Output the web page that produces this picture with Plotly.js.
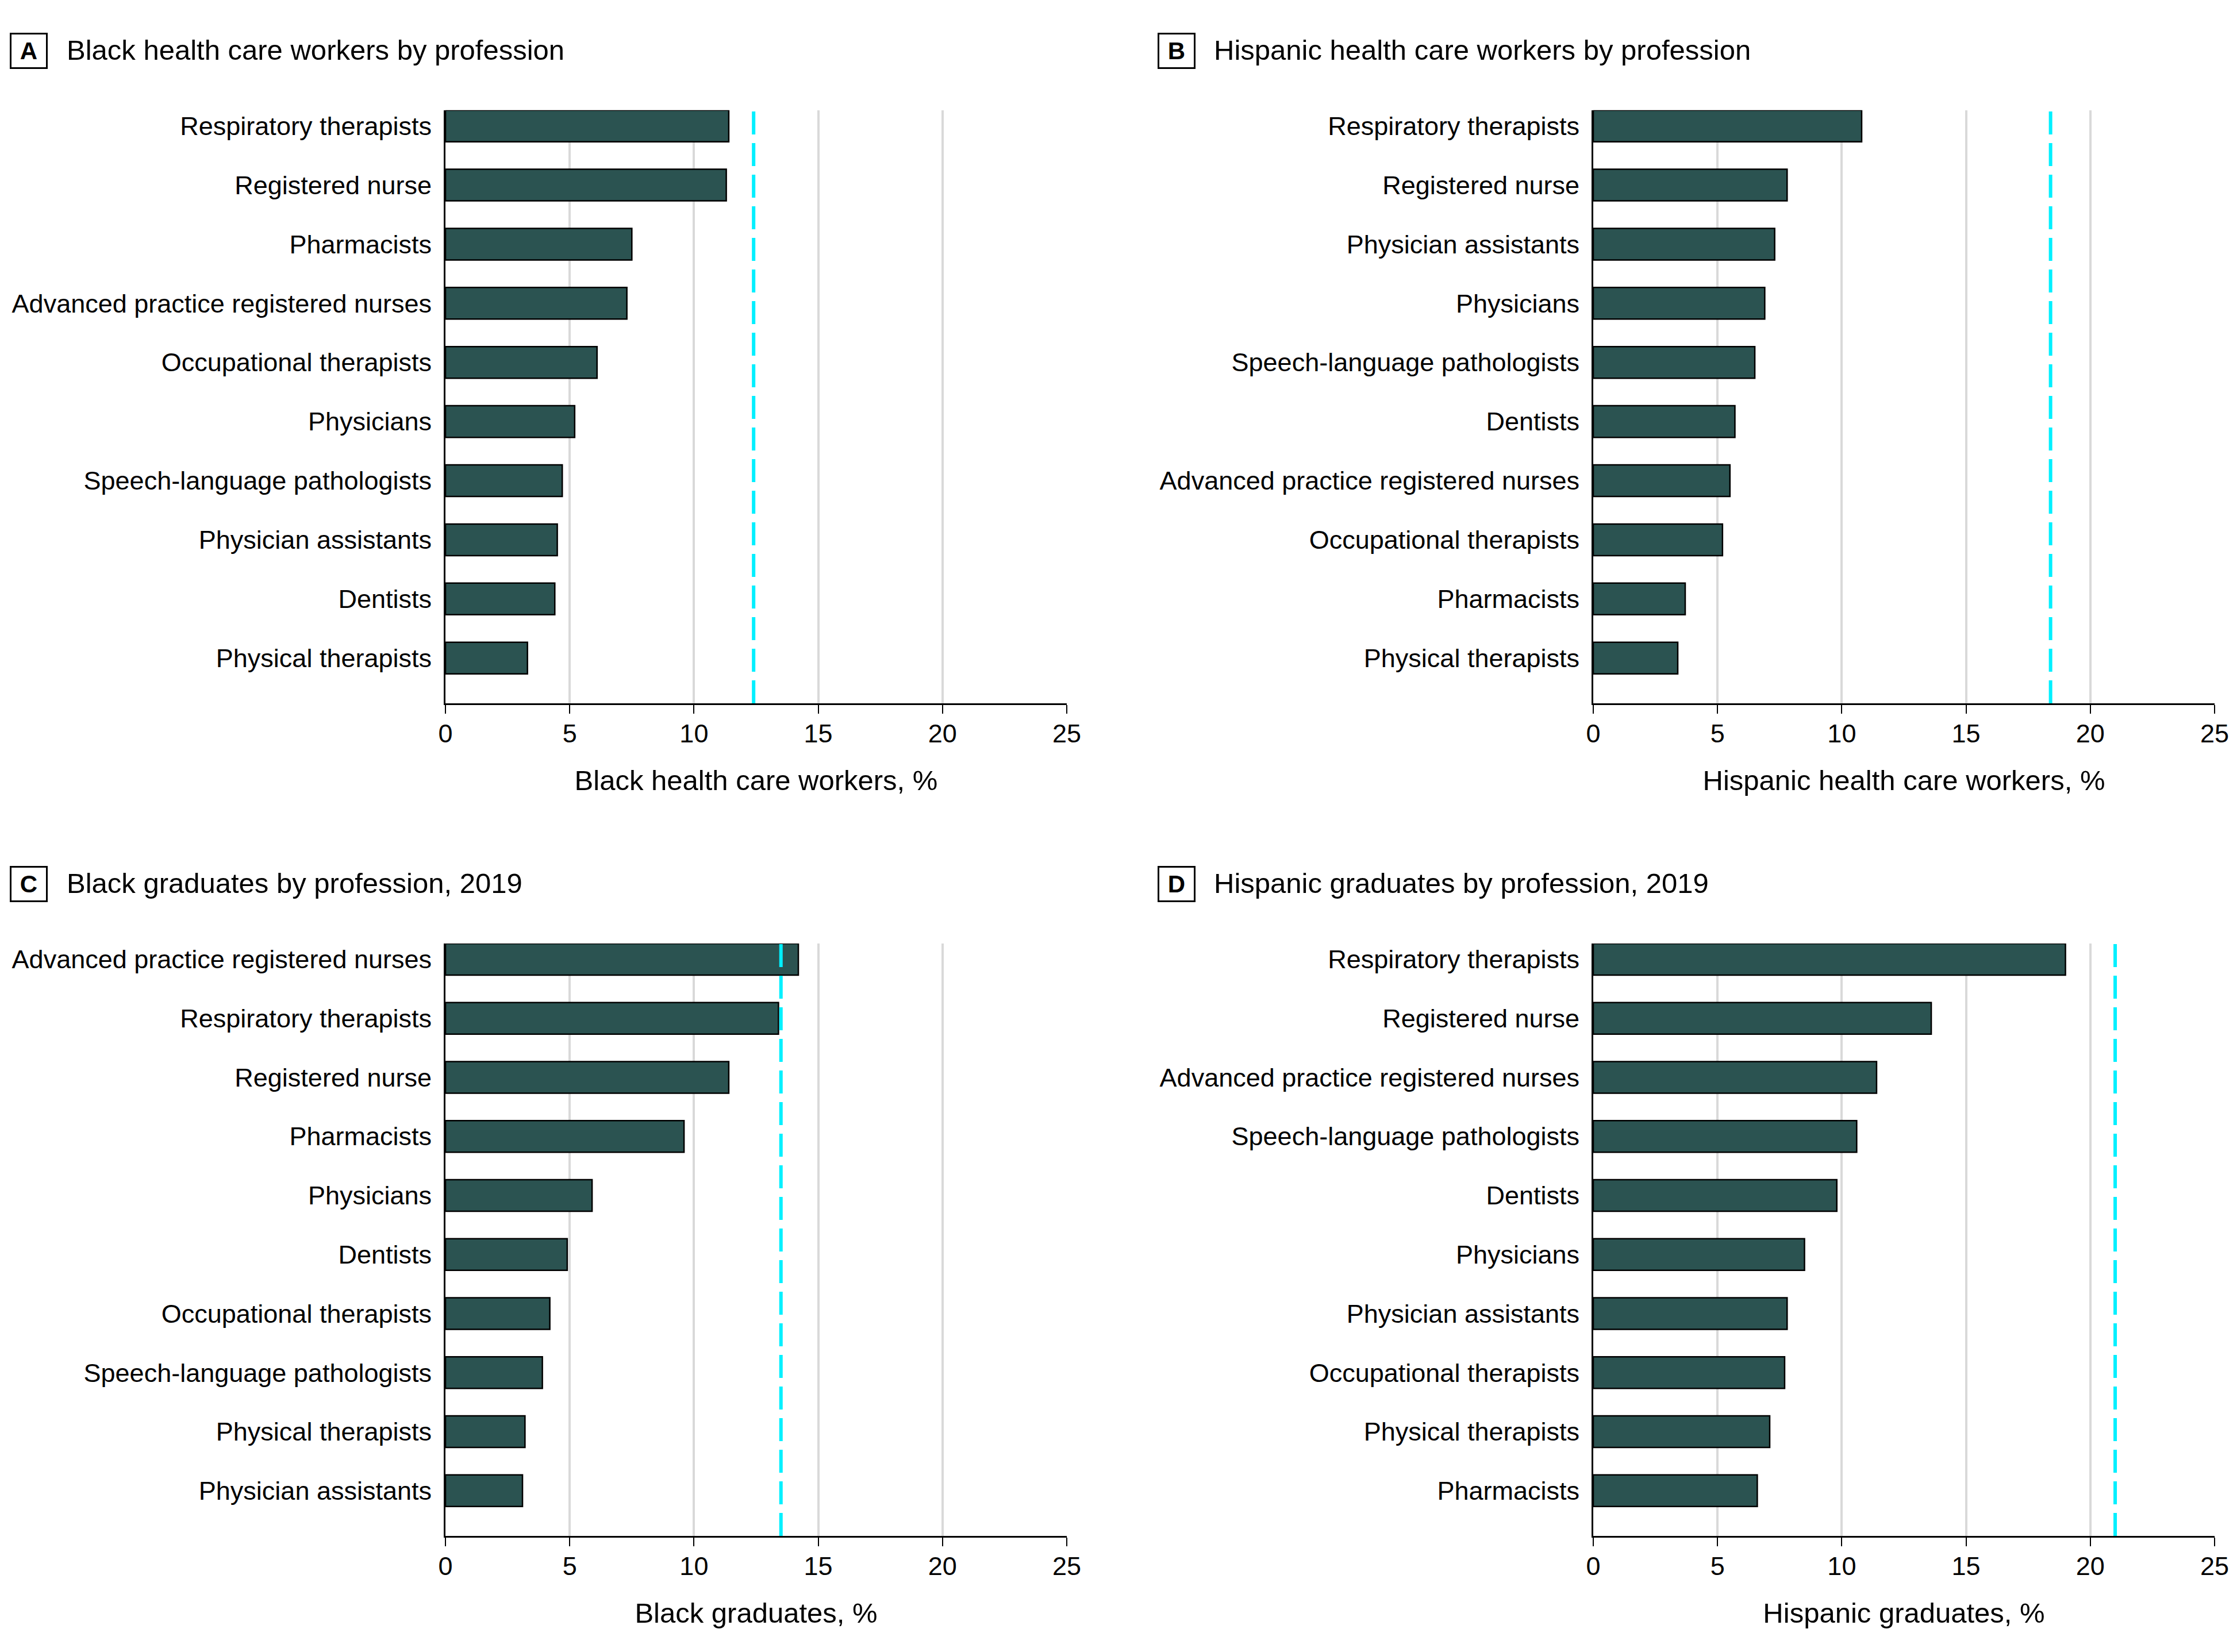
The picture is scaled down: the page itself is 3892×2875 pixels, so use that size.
<!DOCTYPE html>
<html>
<head>
<meta charset="utf-8">
<script src="https://cdn.plot.ly/plotly-3.0.1.min.js"></script>
<style>html,body{margin:0;padding:0;background:#fff;}#chart{width:3892px;height:2875px;}</style>
</head>
<body>
<div id="chart"></div>
<script>
// ---- Data ----
const catsA = ["Respiratory therapists","Registered nurse","Pharmacists","Advanced practice registered nurses","Occupational therapists","Physicians","Speech-language pathologists","Physician assistants","Dentists","Physical therapists"];
const valsA = [11.4, 11.3, 7.5, 7.3, 6.1, 5.2, 4.7, 4.5, 4.4, 3.3];
const refA = 12.4;

const catsB = ["Respiratory therapists","Registered nurse","Physician assistants","Physicians","Speech-language pathologists","Dentists","Advanced practice registered nurses","Occupational therapists","Pharmacists","Physical therapists"];
const valsB = [10.8, 7.8, 7.3, 6.9, 6.5, 5.7, 5.5, 5.2, 3.7, 3.4];
const refB = 18.4;

const catsC = ["Advanced practice registered nurses","Respiratory therapists","Registered nurse","Pharmacists","Physicians","Dentists","Occupational therapists","Speech-language pathologists","Physical therapists","Physician assistants"];
const valsC = [14.2, 13.4, 11.4, 9.6, 5.9, 4.9, 4.2, 3.9, 3.2, 3.1];
const refC = 13.5;

const catsD = ["Respiratory therapists","Registered nurse","Advanced practice registered nurses","Speech-language pathologists","Dentists","Physicians","Physician assistants","Occupational therapists","Physical therapists","Pharmacists"];
const valsD = [19.0, 13.6, 11.4, 10.6, 9.8, 8.5, 7.8, 7.7, 7.1, 6.6];
const refD = 21.0;

const panelLetters = ["A","B","C","D"];
const panelTitles = ["Black health care workers by profession","Hispanic health care workers by profession","Black graduates by profession, 2019","Hispanic graduates by profession, 2019"];
const axisTitles = ["Black health care workers, %","Hispanic health care workers, %","Black graduates, %","Hispanic graduates, %"];
const xTicks = [0, 5, 10, 15, 20, 25];

// ---- Layout geometry ----
const W = 3892, H = 2875;
const px = v => v / W;
const py = v => 1 - v / H;
const colX = [[775, 1856], [2772, 3853]];
const rowY = [[191.7, 1224], [1642, 2673]];
const boxX = [49.5, 2046.5];
const titleX = [114, 2110];
const rowTitleY = [87, 1537];

const FONT = "Liberation Sans, Arial, sans-serif";
const barColor = "#2b5351";
const refColor = "#00f0ff";

const cats = [catsA, catsB, catsC, catsD];
const vals = [valsA, valsB, valsC, valsD];
const refs = [refA, refB, refC, refD];

const traces = [];
const layout = {
  width: W, height: H,
  margin: {l: 0, r: 0, t: 0, b: 0},
  paper_bgcolor: "#fff", plot_bgcolor: "#fff",
  showlegend: false,
  font: {family: FONT, size: 45, color: "#000"},
  shapes: [], annotations: []
};

for (let i = 0; i < 4; i++) {
  const col = i % 2, row = Math.floor(i / 2);
  const n = i + 1;
  const xa = "x" + (n === 1 ? "" : n), ya = "y" + (n === 1 ? "" : n);
  const xk = "xaxis" + (n === 1 ? "" : n), yk = "yaxis" + (n === 1 ? "" : n);
  traces.push({
    type: "bar", orientation: "h",
    x: vals[i], y: cats[i],
    xaxis: xa, yaxis: ya,
    width: 0.535,
    marker: {color: barColor, line: {color: "#000", width: 2.5}},
    hoverinfo: "skip"
  });
  const nc = cats[i].length;
  layout[xk] = {
    domain: [px(colX[col][0]), px(colX[col][1])],
    anchor: ya,
    range: [0, 25],
    tickvals: xTicks,
    ticktext: xTicks.map(String),
    showgrid: true, gridcolor: "#d9d9d9", gridwidth: 4,
    zeroline: false,
    showline: true, linecolor: "#000", linewidth: 3,
    ticks: "outside", ticklen: 15, tickwidth: 2, tickcolor: "#000",
    ticklabelstandoff: -4,
    tickfont: {family: FONT, size: 45, color: "#000"},
    title: {text: axisTitles[i], font: {family: FONT, size: 49, color: "#000"}, standoff: 40},
    automargin: false,
    fixedrange: true
  };
  layout[yk] = {
    domain: [py(rowY[row][1]), py(rowY[row][0])],
    anchor: xa,
    type: "category",
    categoryorder: "array", categoryarray: cats[i],
    range: [nc - 1 + 0.766, -0.267],
    showgrid: false, zeroline: false,
    showline: true, linecolor: "#000", linewidth: 3,
    ticks: "", ticklabelstandoff: 12,
    tickfont: {family: FONT, size: 45, color: "#000"},
    automargin: false,
    fixedrange: true
  };
  layout.shapes.push({
    type: "line", xref: xa, yref: ya + " domain",
    x0: refs[i], x1: refs[i], y0: 0, y1: 1,
    line: {color: refColor, width: 6, dash: "40px,15px"},
    layer: "above"
  });
  layout.annotations.push({
    xref: "paper", yref: "paper",
    x: px(boxX[col]), y: py(rowTitleY[row] + 1),
    xanchor: "center", yanchor: "middle",
    text: "<b>" + panelLetters[i] + "</b>",
    font: {family: FONT, size: 42, color: "#000"},
    showarrow: false,
    width: 60, height: 57, borderpad: 0,
    bordercolor: "#000", borderwidth: 3, bgcolor: "#fff"
  });
  layout.annotations.push({
    xref: "paper", yref: "paper",
    x: px(titleX[col]), y: py(rowTitleY[row]),
    xanchor: "left", yanchor: "middle",
    text: panelTitles[i],
    font: {family: FONT, size: 49, color: "#000"},
    showarrow: false
  });
}

Plotly.newPlot("chart", traces, layout, {staticPlot: true, displayModeBar: false});
</script>
</body>
</html>
